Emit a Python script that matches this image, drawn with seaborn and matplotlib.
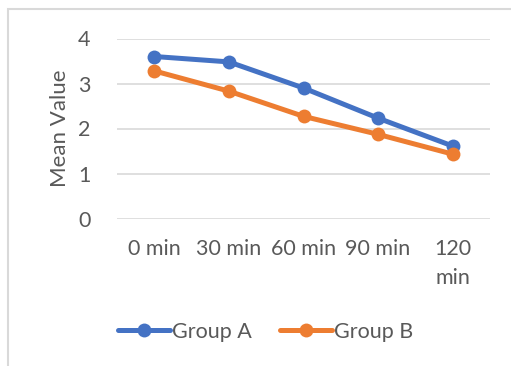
import pandas as pd
import matplotlib.pyplot as plt
import seaborn as sns
from matplotlib.lines import Line2D
from matplotlib.patches import Rectangle

times = ['0 min', '30 min', '60 min', '90 min', '120\nmin']
group_a = [3.60, 3.48, 2.90, 2.23, 1.61]
group_b = [3.28, 2.83, 2.27, 1.87, 1.43]
groups = ['Group A', 'Group B']
colors = ['#4472C4', '#ED7D31']

df = pd.DataFrame({
    'pos': list(range(len(times))) * 2,
    'value': group_a + group_b,
    'group': [groups[0]] * len(times) + [groups[1]] * len(times),
})

sns.set_style('white')
plt.rcParams['font.family'] = ['Lato', 'DejaVu Sans']
text_color = '#595959'

fig = plt.figure(figsize=(5.11, 3.66), dpi=100)
ax = fig.add_axes([117 / 511, 1 - 218.5 / 366, 373 / 511, 180 / 366])

sns.lineplot(data=df, x='pos', y='value', hue='group', palette=colors,
             marker='o', markersize=10, markeredgewidth=0, linewidth=3.6,
             legend=False, ax=ax, zorder=3)

ax.set_xlim(-0.5, len(times) - 0.5)
ax.set_ylim(0, 4)
ax.set_yticks([0, 1, 2, 3, 4])
ax.set_xticks(range(len(times)))
ax.set_xticklabels(times, linespacing=1.55)
ax.yaxis.grid(True, color='#D9D9D9', linewidth=1.2)
ax.xaxis.grid(False)
for s in ax.spines.values():
    s.set_visible(False)
ax.tick_params(axis='both', length=0, labelsize=15.5, colors=text_color)
ax.tick_params(axis='x', pad=15)
ax.tick_params(axis='y', pad=19)
ax.set_xlabel('')
ax.set_ylabel('Mean Value', fontsize=16, color=text_color, labelpad=6)

handles = [Line2D([], [], color=c, marker='o', markersize=10, markeredgewidth=0,
                  linewidth=3.6) for c in colors]
fig.legend(handles, groups, loc='center', bbox_to_anchor=(0.52, 1 - 332 / 366),
           ncol=2, frameon=False, fontsize=15.5, labelcolor=text_color,
           handlelength=2.4, handletextpad=0.1, columnspacing=1.3)

fig.patches.append(Rectangle((8 / 511, -0.1), 1.2, 1.1 - 9 / 366,
                             transform=fig.transFigure, fill=False,
                             edgecolor='#D9D9D9', linewidth=1.5))

fig.savefig('out.png', dpi=100)
